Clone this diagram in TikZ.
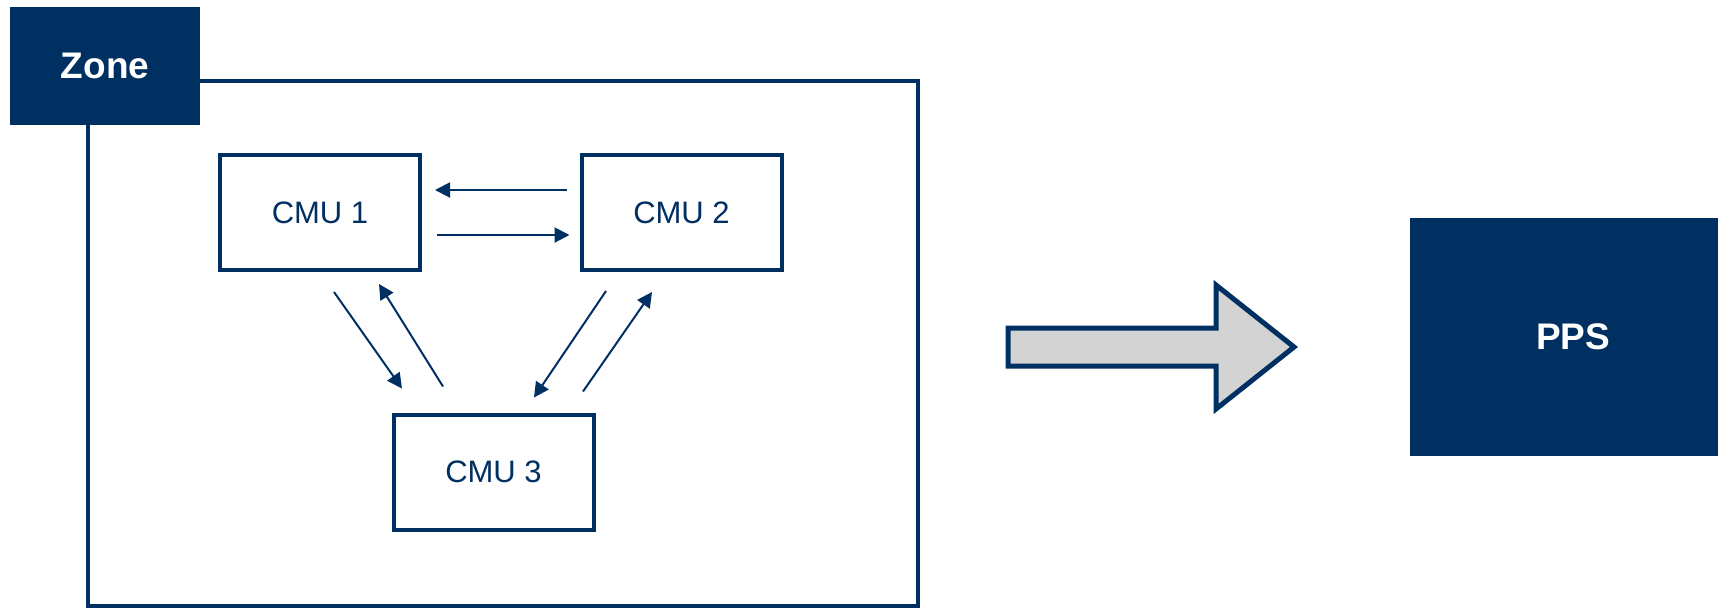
\documentclass[tikz,border=0pt]{standalone}
\usepackage{fontspec}
\setmainfont{Liberation Sans}
\usetikzlibrary{arrows.meta}
\definecolor{navy}{RGB}{0,47,98}
\definecolor{arrowgray}{RGB}{211,211,211}

\begin{document}
\begin{tikzpicture}[
  x=0.5pt, y=-0.5pt,
  zonebox/.style = {
    rectangle, draw=navy, line width=1.6pt,
    minimum width=415pt, minimum height=262.5pt
  },
  cmu/.style = {
    rectangle, draw=navy, line width=2pt, fill=white,
    minimum width=100pt, minimum height=57.5pt,
    font=\fontsize{15.5}{18}\selectfont, text=navy
  },
  tag/.style = {
    rectangle, fill=navy, text=white,
    font=\fontsize{18.5}{22}\selectfont\bfseries
  },
  arr/.style = {-{Triangle[length=7.5pt,width=7.5pt]}, draw=navy, line width=1pt},
  bigarrow/.style = {draw=navy, fill=arrowgray, line width=2.5pt, line join=miter}
]
\useasboundingbox (0,0) rectangle (1718,607);
\node[zonebox] (zone) at (503,343.5) {};
\node[tag, minimum width=95pt, minimum height=59pt] (zonetag) at (105,66) {Zone};
\node[cmu] (cmu1) at (320,212.5) {CMU 1};
\node[cmu] (cmu2) at (681.5,212.5) {CMU 2};
\node[cmu] (cmu3) at (493.5,472) {CMU 3};
\node[tag, minimum width=154pt, minimum height=119pt] (pps) at (1564,337) {\hspace*{9pt}PPS};
\draw[arr] ([shift={(-13,-22.5)}]cmu2.west) -- ([shift={(13,-22.5)}]cmu1.east);
\draw[arr] ([shift={(15,22.5)}]cmu1.east) -- ([shift={(-10,22.5)}]cmu2.west);
\draw[arr] ([shift={(14,20)}]cmu1.south) -- ([shift={(-91.5,-24)}]cmu3.north);
\draw[arr] ([shift={(-50.5,-26)}]cmu3.north) -- ([shift={(59,12)}]cmu1.south);
\draw[arr] ([shift={(-75.5,19)}]cmu2.south) -- ([shift={(40.5,-15)}]cmu3.north);
\draw[arr] ([shift={(89.5,-21)}]cmu3.north) -- ([shift={(-29.5,20)}]cmu2.south);
% arrow towards PPS
\draw[bigarrow] (1008,328) -- (1216,328) -- (1216,285) -- (1294,347)
  -- (1216,409) -- (1216,366) -- (1008,366) -- cycle;
\end{tikzpicture}
\end{document}
